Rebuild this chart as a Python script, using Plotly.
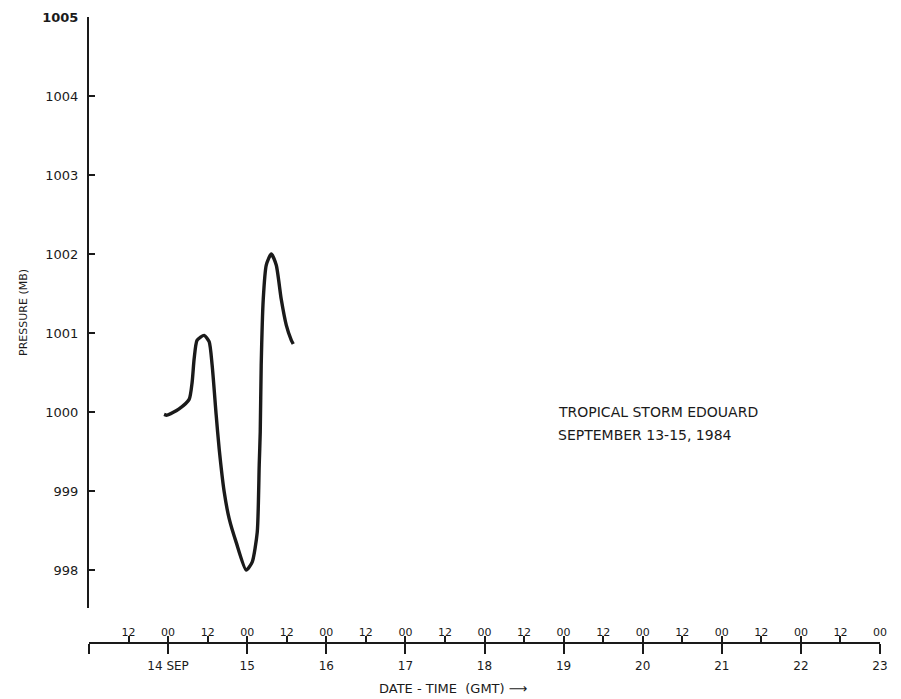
import plotly.graph_objects as go

# Time as day-of-month (September 1984, GMT); pressure in mb
days = [13.949, 13.987, 14.139, 14.266, 14.304, 14.329, 14.367, 14.456, 14.519,
        14.557, 14.608, 14.646, 14.709, 14.772, 14.861, 14.987, 15.063, 15.127,
        15.152, 15.165, 15.177, 15.203, 15.241, 15.304, 15.367, 15.430, 15.494,
        15.557, 15.582]
pressure = [999.97, 999.96, 1000.04, 1000.16, 1000.38, 1000.67, 1000.91, 1000.97,
            1000.89, 1000.59, 999.96, 999.53, 998.99, 998.65, 998.35, 998.00,
            998.10, 998.48, 999.33, 999.75, 1000.59, 1001.43, 1001.86, 1002.00,
            1001.86, 1001.43, 1001.10, 1000.91, 1000.86]

y_ticks = [998, 999, 1000, 1001, 1002, 1003, 1004, 1005]
y_ticktext = ["998", "999", "1000", "1001", "1002", "1003", "1004", "<b>1005</b>"]

hour_ticks = [13.5 + 0.5 * i for i in range(20)]
hour_text = ["12" if i % 2 == 0 else "00" for i in range(20)]

day_ticks = list(range(13, 24))
day_text = ["", "14 SEP", "15", "16", "17", "18", "19", "20", "21", "22", "23"]

title_lines = ["TROPICAL STORM EDOUARD", "SEPTEMBER 13-15, 1984"]
x_title = "DATE - TIME  (GMT) ⟶"

FONT = "DejaVu Sans"
INK = "#1a1a1a"

fig = go.Figure()
fig.add_trace(go.Scatter(
    x=days, y=pressure, mode="lines",
    line=dict(color=INK, width=3.4, shape="spline", smoothing=0.6),
    showlegend=False, hoverinfo="skip"))
# invisible trace to activate the overlay axis
fig.add_trace(go.Scatter(x=[13, 23], y=[1000, 1000], xaxis="x2", mode="lines",
                         line=dict(width=0), showlegend=False, hoverinfo="skip"))

annotations = [
    dict(x=18.9, y=1000.0, xref="x", yref="y", xanchor="left", yanchor="middle",
         align="left", showarrow=False, yshift=-23 * i,
         text=line, font=dict(size=14))
    for i, line in enumerate(title_lines)
]
annotations.append(
    dict(x=17.6, y=-0.072, xref="x", yref="paper", xanchor="center",
         yanchor="middle", showarrow=False, text=x_title, font=dict(size=13)))

fig.update_layout(
    width=901, height=699,
    margin=dict(l=89, r=21, t=17, b=56),
    paper_bgcolor="white", plot_bgcolor="white",
    font=dict(family=FONT, color=INK, size=12),
    xaxis=dict(
        range=[13, 23], anchor="free", position=0, automargin=False,
        showgrid=False, zeroline=False,
        showline=True, linecolor=INK, linewidth=2,
        tickmode="array", tickvals=hour_ticks, ticktext=hour_text,
        ticks="inside", ticklen=6, tickwidth=2, tickcolor=INK,
        ticklabelposition="inside", ticklabeloverflow="allow",
        ticklabelstandoff=-3, tickfont=dict(size=11, color=INK),
    ),
    xaxis2=dict(
        range=[13, 23], overlaying="x", anchor="free", position=0, side="bottom",
        automargin=False,
        showgrid=False, zeroline=False, showline=False,
        tickmode="array", tickvals=day_ticks, ticktext=day_text,
        ticks="outside", ticklen=10, tickwidth=2, tickcolor=INK,
        ticklabeloverflow="allow", ticklabelstandoff=2,
        tickfont=dict(size=12, color=INK),
    ),
    yaxis=dict(
        domain=[0.056, 1], range=[997.52, 1005], automargin=False,
        showgrid=False, zeroline=False,
        showline=True, linecolor=INK, linewidth=2,
        tickmode="array", tickvals=y_ticks, ticktext=y_ticktext,
        ticks="inside", ticklen=6, tickwidth=2, tickcolor=INK,
        ticklabelstandoff=6, tickfont=dict(size=13, color=INK),
        title=dict(text="PRESSURE (MB)", font=dict(size=11), standoff=12),
    ),
    annotations=annotations,
)

fig.write_html("out.html",
               config={"displayModeBar": False},
               post_script="document.body.style.margin='0';"
                           "document.body.style.overflow='hidden';")
